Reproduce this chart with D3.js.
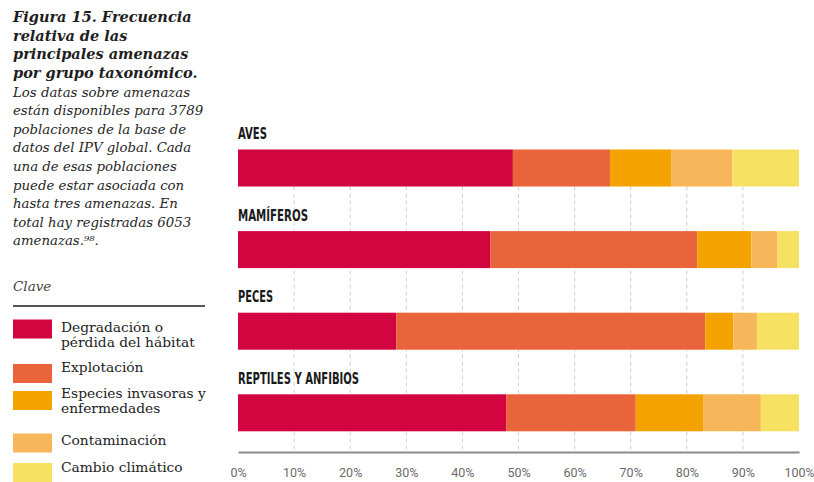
<!DOCTYPE html>
<html>
<head>
<meta charset="utf-8">
<script src="https://cdn.jsdelivr.net/npm/d3@7"></script>
<style>
  html, body { margin: 0; padding: 0; background: #fff; }
  svg { display: block; }
</style>
</head>
<body>
<svg id="chart" width="814" height="482"></svg>
<script>
// Taxonomic groups and the share (%) of each threat type
const groups = ["AVES", "MAMÍFEROS", "PECES", "REPTILES Y ANFIBIOS"];
const threats = ["Degradación o pérdida del hábitat", "Explotación", "Especies invasoras y enfermedades", "Contaminación", "Cambio climático"];
const habitat      = [49.0, 45.0, 28.2, 47.8];
const explotacion  = [17.3, 36.9, 55.1, 23.1];
const invasoras    = [10.9,  9.6,  5.0, 12.0];
const contaminacion= [10.9,  4.6,  4.2, 10.3];
const clima        = [11.9,  3.9,  7.5,  6.8];
const tickValues = [0, 10, 20, 30, 40, 50, 60, 70, 80, 90, 100];

const colors = ["#d30541", "#e9643a", "#f4a200", "#f8b65b", "#f6e163"];

const titleLines = ["Figura 15. Frecuencia", "relativa de las", "principales amenazas", "por grupo taxonómico."];
const bodyLines = ["Los datas sobre amenazas", "están disponibles para 3789", "poblaciones de la base de", "datos del IPV global. Cada", "una de esas poblaciones", "puede estar asociada con", "hasta tres amenazas. En", "total hay registradas 6053", "amenazas.⁹⁸."];
const legendLines = [["Degradación o", "pérdida del hábitat"], ["Explotación"], ["Especies invasoras y", "enfermedades"], ["Contaminación"], ["Cambio climático"]];

const series = [habitat, explotacion, invasoras, contaminacion, clima];
const rows = groups.map((g, i) => {
  const r = { group: g };
  threats.forEach((t, k) => r[t] = series[k][i]);
  return r;
});
const stacked = d3.stack().keys(threats)(rows);

const svg = d3.select("#chart");

// ---- Chart area ----
const x = d3.scaleLinear().domain([0, 100]).range([238, 799]);
const y = d3.scalePoint().domain(groups).range([149.5, 394.3]);
const barH = 37;
const axisY = 452;

// dashed vertical gridlines
svg.append("g")
  .selectAll("line")
  .data(tickValues.filter(d => d > 0 && d < 100))
  .join("line")
  .attr("x1", d => x(d)).attr("x2", d => x(d))
  .attr("y1", y(groups[0]) + barH).attr("y2", axisY)
  .attr("stroke", "#cfcfd4")
  .attr("stroke-width", 1)
  .attr("stroke-dasharray", "4,3");

// stacked bars
svg.append("g")
  .selectAll("g")
  .data(stacked)
  .join("g")
  .attr("fill", (d, i) => colors[i])
  .selectAll("rect")
  .data(d => d)
  .join("rect")
  .attr("x", d => x(d[0]))
  .attr("y", d => y(d.data.group))
  .attr("width", d => x(d[1]) - x(d[0]))
  .attr("height", barH);

// group labels above bars
const labelWidths = { "AVES": 29, "MAMÍFEROS": 70, "PECES": 35, "REPTILES Y ANFIBIOS": 121 };
svg.append("g")
  .selectAll("text")
  .data(groups)
  .join("text")
  .attr("x", x(0))
  .attr("y", d => y(d) - 10.5)
  .attr("textLength", d => labelWidths[d])
  .attr("lengthAdjust", "spacingAndGlyphs")
  .attr("font-family", "'DejaVu Sans Condensed', 'Liberation Sans Narrow', 'DejaVu Sans', sans-serif")
  .attr("font-weight", "bold")
  .attr("font-size", 16)
  .attr("fill", "#1a1a1a")
  .text(d => d);

// bottom axis
const axis = svg.append("g")
  .attr("transform", `translate(0,${axisY})`)
  .call(d3.axisBottom(x).tickValues(tickValues).tickFormat(d => d + "%").tickSize(0).tickPadding(16));
axis.select(".domain").attr("stroke", "#8a8a8a").attr("stroke-width", 2);
axis.selectAll("text")
  .attr("font-family", "Roboto, 'Open Sans', sans-serif")
  .attr("font-size", 12.5)
  .attr("fill", "#6a6a6a");

// ---- Left text panel ----
const left = svg.append("g");
left.append("g")
  .selectAll("text")
  .data(titleLines)
  .join("text")
  .attr("x", 13)
  .attr("y", (d, i) => 22 + i * 18.6)
  .attr("font-family", "'DejaVu Serif', serif")
  .attr("font-style", "italic")
  .attr("font-weight", "bold")
  .attr("font-size", 14.5)
  .attr("fill", "#1e1e1e")
  .text(d => d);

left.append("g")
  .selectAll("text")
  .data(bodyLines)
  .join("text")
  .attr("x", 13)
  .attr("y", (d, i) => 96.5 + i * 18.6)
  .attr("font-family", "'DejaVu Serif', serif")
  .attr("font-style", "italic")
  .attr("font-size", 13.3)
  .attr("fill", "#262626")
  .text(d => d);

// legend
left.append("text")
  .attr("x", 13).attr("y", 291)
  .attr("font-family", "'DejaVu Serif', serif")
  .attr("font-style", "italic")
  .attr("font-size", 13.5)
  .attr("fill", "#444")
  .text("Clave");
left.append("line")
  .attr("x1", 13).attr("x2", 205)
  .attr("y1", 306).attr("y2", 306)
  .attr("stroke", "#555").attr("stroke-width", 2);

const legendTop = [319.5, 364, 391, 433.5, 463];
const legendText = [332, 371.5, 398, 445, 471.5];
const leg = left.append("g")
  .selectAll("g")
  .data(threats)
  .join("g");
leg.append("rect")
  .attr("x", 13)
  .attr("y", (d, i) => legendTop[i])
  .attr("width", 39)
  .attr("height", 19)
  .attr("fill", (d, i) => colors[i]);
leg.append("text")
  .attr("font-family", "'DejaVu Serif', serif")
  .attr("font-size", 13.8)
  .attr("fill", "#222")
  .each(function(d, i) {
    d3.select(this).selectAll("tspan")
      .data(legendLines[i])
      .join("tspan")
      .attr("x", 61)
      .attr("y", (t, j) => legendText[i] + j * 14.5)
      .text(t => t);
  });
</script>
</body>
</html>
